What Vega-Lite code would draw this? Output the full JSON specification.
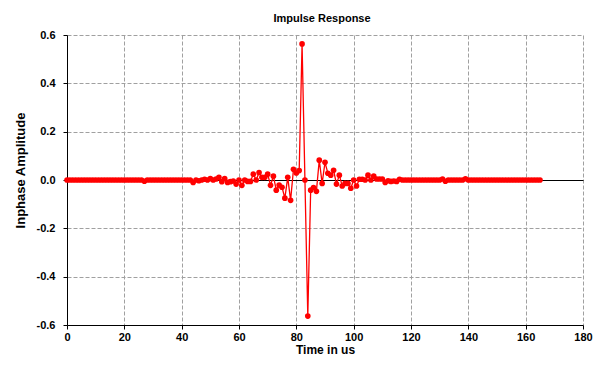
{
  "$schema": "https://vega.github.io/schema/vega-lite/v6.json",
  "width": 516,
  "height": 290,
  "autosize": {"type": "none"},
  "padding": {"left": 67, "top": 35, "right": 26, "bottom": 43},
  "background": "white",
  "title": {"text": "Impulse Response", "font": "Liberation Sans", "fontSize": 11, "fontWeight": "bold", "color": "black", "baseline": "alphabetic", "offset": -4, "dx": -3},
  "data": {"values": [
    {"t":0,"v":0},{"t":1,"v":0},{"t":2,"v":0},{"t":3,"v":0},{"t":4,"v":0},{"t":5,"v":0},{"t":6,"v":0},{"t":7,"v":0},{"t":8,"v":0},{"t":9,"v":0},
    {"t":10,"v":0},{"t":11,"v":0},{"t":12,"v":0},{"t":13,"v":0},{"t":14,"v":0},{"t":15,"v":0},{"t":16,"v":0},{"t":17,"v":0},{"t":18,"v":0},{"t":19,"v":0},
    {"t":20,"v":0},{"t":21,"v":0},{"t":22,"v":0},{"t":23,"v":0},{"t":24,"v":0},{"t":25,"v":0},{"t":26,"v":0},{"t":27,"v":-0.005},{"t":28,"v":0},{"t":29,"v":0},
    {"t":30,"v":0},{"t":31,"v":0},{"t":32,"v":0},{"t":33,"v":0},{"t":34,"v":0},{"t":35,"v":0},{"t":36,"v":0},{"t":37,"v":0},{"t":38,"v":0},{"t":39,"v":0},
    {"t":40,"v":0},{"t":41,"v":0},{"t":42,"v":0},{"t":43,"v":0},{"t":44,"v":-0.01},{"t":45,"v":0},{"t":46,"v":-0.003},{"t":47,"v":0},{"t":48,"v":0.003},{"t":49,"v":0},
    {"t":50,"v":0.006},{"t":51,"v":0},{"t":52,"v":0.004},{"t":53,"v":0.011},{"t":54,"v":-0.007},{"t":55,"v":0.006},{"t":56,"v":-0.01},{"t":57,"v":-0.007},{"t":58,"v":-0.004},{"t":59,"v":-0.017},
    {"t":60,"v":0},{"t":61,"v":-0.022},{"t":62,"v":0},{"t":63,"v":-0.006},{"t":64,"v":-0.006},{"t":65,"v":0.024},{"t":66,"v":0},{"t":67,"v":0.031},{"t":68,"v":0.011},{"t":69,"v":0.011},
    {"t":70,"v":0.024},{"t":71,"v":-0.022},{"t":72,"v":0.016},{"t":73,"v":-0.042},{"t":74,"v":-0.021},{"t":75,"v":-0.03},{"t":76,"v":-0.075},{"t":77,"v":0.011},{"t":78,"v":-0.084},{"t":79,"v":0.044},
    {"t":80,"v":0.029},{"t":81,"v":0.039},{"t":82,"v":0.563},{"t":83,"v":0},{"t":84,"v":-0.563},{"t":85,"v":-0.042},{"t":86,"v":-0.031},{"t":87,"v":-0.047},{"t":88,"v":0.082},{"t":89,"v":-0.014},
    {"t":90,"v":0.073},{"t":91,"v":0.028},{"t":92,"v":0.02},{"t":93,"v":0.04},{"t":94,"v":-0.017},{"t":95,"v":0.02},{"t":96,"v":-0.025},{"t":97,"v":-0.014},{"t":98,"v":-0.014},{"t":99,"v":-0.034},
    {"t":100,"v":0},{"t":101,"v":-0.025},{"t":102,"v":0.003},{"t":103,"v":0.003},{"t":104,"v":0},{"t":105,"v":0.02},{"t":106,"v":0},{"t":107,"v":0.016},{"t":108,"v":0.004},{"t":109,"v":0.004},
    {"t":110,"v":0.004},{"t":111,"v":-0.01},{"t":112,"v":-0.003},{"t":113,"v":-0.006},{"t":114,"v":-0.004},{"t":115,"v":-0.006},{"t":116,"v":0.003},{"t":117,"v":0},{"t":118,"v":0},{"t":119,"v":0},
    {"t":120,"v":0},{"t":121,"v":0},{"t":122,"v":0},{"t":123,"v":0},{"t":124,"v":0},{"t":125,"v":0},{"t":126,"v":0},{"t":127,"v":0},{"t":128,"v":0},{"t":129,"v":0},
    {"t":130,"v":0},{"t":131,"v":0.004},{"t":132,"v":-0.005},{"t":133,"v":0},{"t":134,"v":0},{"t":135,"v":0},{"t":136,"v":0},{"t":137,"v":0},{"t":138,"v":0},{"t":139,"v":0.005},
    {"t":140,"v":0},{"t":141,"v":0},{"t":142,"v":0},{"t":143,"v":0},{"t":144,"v":0},{"t":145,"v":0},{"t":146,"v":0},{"t":147,"v":0},{"t":148,"v":0},{"t":149,"v":0},
    {"t":150,"v":0},{"t":151,"v":0},{"t":152,"v":0},{"t":153,"v":0},{"t":154,"v":0},{"t":155,"v":0},{"t":156,"v":0},{"t":157,"v":0},{"t":158,"v":0},{"t":159,"v":0},
    {"t":160,"v":0},{"t":161,"v":0},{"t":162,"v":0},{"t":163,"v":0},{"t":164,"v":0},{"t":165,"v":0}
  ]},
  "encoding": {
    "x": {"field": "t", "type": "quantitative", "scale": {"domain": [0, 180], "nice": false, "zero": false},
      "axis": {"values": [0,20,40,60,80,100,120,140,160,180], "title": "Time in us", "titleFontSize": 12, "titlePadding": 2, "labelPadding": 2, "tickSize": 4, "labelFlush": false}},
    "y": {"field": "v", "type": "quantitative", "scale": {"domain": [-0.6, 0.6], "nice": false, "zero": false},
      "axis": {"values": [-0.6,-0.4,-0.2,0,0.2,0.4,0.6], "title": "Inphase Amplitude", "titleFontSize": 13,
        "labelExpr": "datum.value < 0 ? '-' + format(-datum.value, '.1f') : format(datum.value, '.1f')",
        "titleX": -40, "titleY": 135, "labelPadding": 8, "tickSize": 4, "labelFlush": false,
        "gridColor": {"condition": {"test": "datum.value === 0", "value": "black"}, "value": "#a0a0a0"},
        "gridDash": {"condition": {"test": "datum.value === 0", "value": []}, "value": [4, 2]}}}
  },
  "layer": [
    {"mark": {"type": "line", "color": "#ff0000", "strokeWidth": 1.3}},
    {"mark": {"type": "point", "shape": "circle", "filled": true, "color": "#ff0000", "size": 32, "opacity": 1}}
  ],
  "config": {
    "view": {"stroke": null},
    "axis": {
      "domainColor": "black", "domainWidth": 1, "tickColor": "black", "tickWidth": 1,
      "labelFont": "Liberation Sans", "labelFontSize": 11, "labelFontWeight": "bold", "labelColor": "black",
      "titleFont": "Liberation Sans", "titleFontWeight": "bold", "titleColor": "black",
      "grid": true, "gridColor": "#a0a0a0", "gridDash": [4, 2], "gridWidth": 1, "gridOpacity": 1
    }
  }
}
